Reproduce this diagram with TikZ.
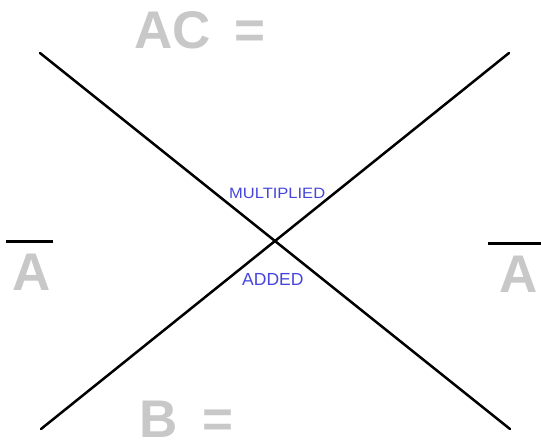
\documentclass[tikz,border=0pt]{standalone}
\usepackage{fontspec}
\setmainfont{Liberation Sans}
\usepackage{graphicx}
\definecolor{lightgray}{RGB}{200,200,200}
\definecolor{penblue}{RGB}{70,70,220}
\begin{document}
\begin{tikzpicture}[x=1pt,y=-1pt,
  bigtxt/.style={inner sep=0pt,anchor=base west,text=lightgray,font=\fontsize{53}{53}\selectfont\bfseries},
  smalltxt/.style={inner sep=0pt,anchor=base west,text=penblue},
  crossline/.style={line width=2.5pt,line cap=round,black},
  barline/.style={line width=3pt,black}]
\useasboundingbox[fill=white] (0,0) rectangle (541,445);
\coordinate (tl) at (40,53);
\coordinate (br) at (510,429);
\coordinate (tr) at (509,53);
\coordinate (bl) at (41,429);
\draw[crossline] (tl) -- (br);
\draw[crossline] (bl) -- (tr);
\node[bigtxt] (ac) at (134,48) {AC};
\node[bigtxt] (aceq) at (234,48) {=};
\node[bigtxt] (b) at (139,437) {B};
\node[bigtxt] (beq) at (202,437) {=};
\node[bigtxt] (al) at (12,290) {A};
\node[bigtxt] (ar) at (499,292) {A};
\coordinate (bl1) at (6,241);
\coordinate (bl2) at (53,241);
\coordinate (br1) at (488,243);
\coordinate (br2) at (541,243);
\draw[barline] (bl1) -- (bl2);
\draw[barline] (br1) -- (br2);
\node[smalltxt] (mul) at (229,198) {\scalebox{1.1}[1]{\fontsize{15}{15}\selectfont MULTIPLIED}};
\node[smalltxt] (add) at (242,285) {\fontsize{17.5}{17.5}\selectfont ADDED};
\end{tikzpicture}
\end{document}
